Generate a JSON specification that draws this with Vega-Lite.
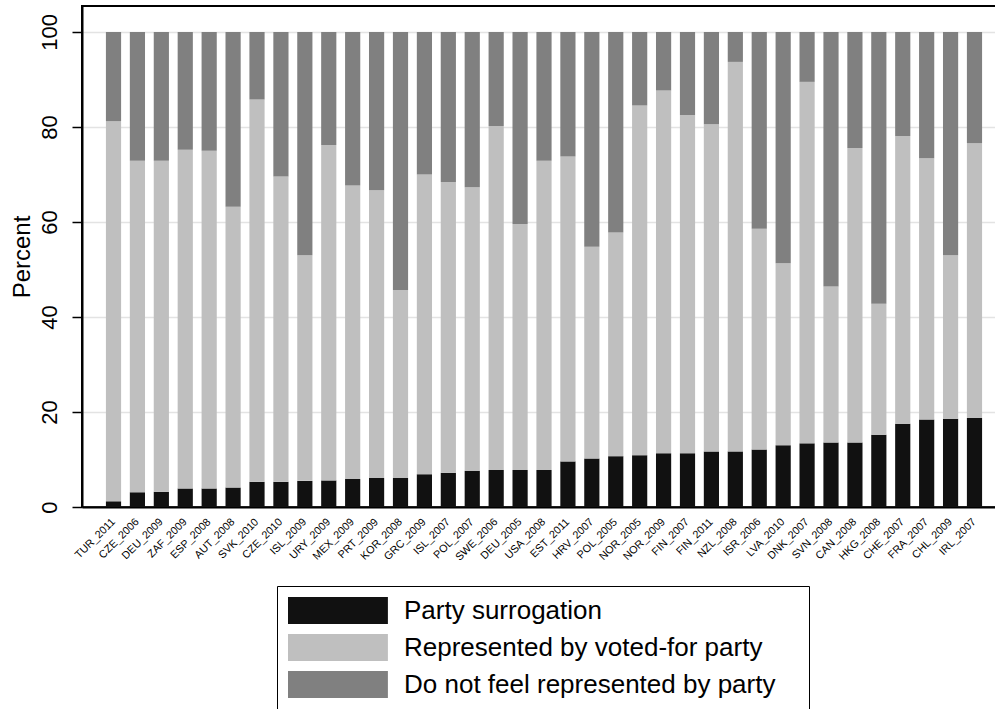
{
  "$schema": "https://vega.github.io/schema/vega-lite/v6.json",
  "autosize": "none",
  "padding": {"left": 82, "top": 6, "right": 0, "bottom": 202},
  "width": 924,
  "height": 501,
  "background": "white",
  "config": {
    "font": "Liberation Sans",
    "view": {"stroke": "black", "strokeWidth": 2},
    "axis": {"labelFont": "Liberation Sans", "titleFont": "Liberation Sans", "labelColor": "black", "titleColor": "black", "titleFontWeight": "normal"}
  },
  "datasets": {
    "groups": [
      {"o": 1, "g": "Party surrogation"},
      {"o": 2, "g": "Represented by voted-for party"},
      {"o": 3, "g": "Do not feel represented by party"}
    ]
  },
  "data": {"values": [
    {"c":"TUR_2011","o":1,"v":1.2},{"c":"TUR_2011","o":2,"v":80.0},{"c":"TUR_2011","o":3,"v":18.8},
    {"c":"CZE_2006","o":1,"v":3.1},{"c":"CZE_2006","o":2,"v":69.8},{"c":"CZE_2006","o":3,"v":27.1},
    {"c":"DEU_2009","o":1,"v":3.2},{"c":"DEU_2009","o":2,"v":69.7},{"c":"DEU_2009","o":3,"v":27.1},
    {"c":"ZAF_2009","o":1,"v":3.9},{"c":"ZAF_2009","o":2,"v":71.3},{"c":"ZAF_2009","o":3,"v":24.8},
    {"c":"ESP_2008","o":1,"v":3.9},{"c":"ESP_2008","o":2,"v":71.1},{"c":"ESP_2008","o":3,"v":25.0},
    {"c":"AUT_2008","o":1,"v":4.1},{"c":"AUT_2008","o":2,"v":59.1},{"c":"AUT_2008","o":3,"v":36.8},
    {"c":"SVK_2010","o":1,"v":5.3},{"c":"SVK_2010","o":2,"v":80.5},{"c":"SVK_2010","o":3,"v":14.2},
    {"c":"CZE_2010","o":1,"v":5.3},{"c":"CZE_2010","o":2,"v":64.3},{"c":"CZE_2010","o":3,"v":30.4},
    {"c":"ISL_2009","o":1,"v":5.5},{"c":"ISL_2009","o":2,"v":47.5},{"c":"ISL_2009","o":3,"v":47.0},
    {"c":"URY_2009","o":1,"v":5.6},{"c":"URY_2009","o":2,"v":70.6},{"c":"URY_2009","o":3,"v":23.8},
    {"c":"MEX_2009","o":1,"v":5.9},{"c":"MEX_2009","o":2,"v":61.8},{"c":"MEX_2009","o":3,"v":32.3},
    {"c":"PRT_2009","o":1,"v":6.1},{"c":"PRT_2009","o":2,"v":60.6},{"c":"PRT_2009","o":3,"v":33.3},
    {"c":"KOR_2008","o":1,"v":6.1},{"c":"KOR_2008","o":2,"v":39.6},{"c":"KOR_2008","o":3,"v":54.3},
    {"c":"GRC_2009","o":1,"v":6.9},{"c":"GRC_2009","o":2,"v":63.1},{"c":"GRC_2009","o":3,"v":30.0},
    {"c":"ISL_2007","o":1,"v":7.2},{"c":"ISL_2007","o":2,"v":61.2},{"c":"ISL_2007","o":3,"v":31.6},
    {"c":"POL_2007","o":1,"v":7.6},{"c":"POL_2007","o":2,"v":59.7},{"c":"POL_2007","o":3,"v":32.7},
    {"c":"SWE_2006","o":1,"v":7.8},{"c":"SWE_2006","o":2,"v":72.4},{"c":"SWE_2006","o":3,"v":19.8},
    {"c":"DEU_2005","o":1,"v":7.8},{"c":"DEU_2005","o":2,"v":51.8},{"c":"DEU_2005","o":3,"v":40.4},
    {"c":"USA_2008","o":1,"v":7.8},{"c":"USA_2008","o":2,"v":65.1},{"c":"USA_2008","o":3,"v":27.1},
    {"c":"EST_2011","o":1,"v":9.6},{"c":"EST_2011","o":2,"v":64.2},{"c":"EST_2011","o":3,"v":26.2},
    {"c":"HRV_2007","o":1,"v":10.2},{"c":"HRV_2007","o":2,"v":44.6},{"c":"HRV_2007","o":3,"v":45.2},
    {"c":"POL_2005","o":1,"v":10.7},{"c":"POL_2005","o":2,"v":47.1},{"c":"POL_2005","o":3,"v":42.2},
    {"c":"NOR_2005","o":1,"v":10.9},{"c":"NOR_2005","o":2,"v":73.6},{"c":"NOR_2005","o":3,"v":15.5},
    {"c":"NOR_2009","o":1,"v":11.3},{"c":"NOR_2009","o":2,"v":76.4},{"c":"NOR_2009","o":3,"v":12.3},
    {"c":"FIN_2007","o":1,"v":11.3},{"c":"FIN_2007","o":2,"v":71.2},{"c":"FIN_2007","o":3,"v":17.5},
    {"c":"FIN_2011","o":1,"v":11.7},{"c":"FIN_2011","o":2,"v":68.9},{"c":"FIN_2011","o":3,"v":19.4},
    {"c":"NZL_2008","o":1,"v":11.7},{"c":"NZL_2008","o":2,"v":82.0},{"c":"NZL_2008","o":3,"v":6.3},
    {"c":"ISR_2006","o":1,"v":12.1},{"c":"ISR_2006","o":2,"v":46.5},{"c":"ISR_2006","o":3,"v":41.4},
    {"c":"LVA_2010","o":1,"v":13.0},{"c":"LVA_2010","o":2,"v":38.3},{"c":"LVA_2010","o":3,"v":48.7},
    {"c":"DNK_2007","o":1,"v":13.4},{"c":"DNK_2007","o":2,"v":76.1},{"c":"DNK_2007","o":3,"v":10.5},
    {"c":"SVN_2008","o":1,"v":13.6},{"c":"SVN_2008","o":2,"v":32.8},{"c":"SVN_2008","o":3,"v":53.6},
    {"c":"CAN_2008","o":1,"v":13.6},{"c":"CAN_2008","o":2,"v":62.0},{"c":"CAN_2008","o":3,"v":24.4},
    {"c":"HKG_2008","o":1,"v":15.2},{"c":"HKG_2008","o":2,"v":27.6},{"c":"HKG_2008","o":3,"v":57.2},
    {"c":"CHE_2007","o":1,"v":17.5},{"c":"CHE_2007","o":2,"v":60.6},{"c":"CHE_2007","o":3,"v":21.9},
    {"c":"FRA_2007","o":1,"v":18.4},{"c":"FRA_2007","o":2,"v":55.0},{"c":"FRA_2007","o":3,"v":26.6},
    {"c":"CHL_2009","o":1,"v":18.6},{"c":"CHL_2009","o":2,"v":34.4},{"c":"CHL_2009","o":3,"v":47.0},
    {"c":"IRL_2007","o":1,"v":18.8},{"c":"IRL_2007","o":2,"v":57.8},{"c":"IRL_2007","o":3,"v":23.4}
  ]},
  "transform": [
    {"lookup": "o", "from": {"data": {"name": "groups"}, "key": "o", "fields": ["g"]}}
  ],
  "mark": {"type": "bar"},
  "encoding": {
    "x": {
      "field": "c", "type": "nominal", "sort": null,
      "scale": {"paddingInner": 0.365, "paddingOuter": 1.227},
      "axis": {"title": null, "labelAngle": -45, "labelAlign": "right", "labelBaseline": "middle", "labelFontSize": 10.8, "labelPadding": 13, "ticks": false, "domainColor": "black", "domainWidth": 2, "labelOverlap": false}
    },
    "y": {
      "field": "v", "type": "quantitative", "stack": "zero",
      "scale": {"domain": [0, 105.47], "nice": false},
      "axis": {"title": "Percent", "titleFontSize": 24, "titlePadding": 4, "labelFontSize": 22, "labelAngle": -90, "labelPadding": 11, "values": [0, 20, 40, 60, 80, 100], "tickSize": 10, "tickWidth": 1.5, "tickColor": "black", "domainColor": "black", "domainWidth": 2, "grid": true, "gridColor": "#e3e3e3", "gridWidth": 1.5}
    },
    "color": {
      "field": "g", "type": "nominal",
      "scale": {"domain": ["Party surrogation", "Represented by voted-for party", "Do not feel represented by party"], "range": ["#111111", "#bfbfbf", "#808080"]},
      "legend": {"title": null, "orient": "none", "legendX": 195, "legendY": 580, "direction": "vertical", "symbolType": "M-1,-1H6.4V1H-1Z", "symbolSize": 729, "symbolStrokeWidth": 0, "symbolOpacity": 1, "labelFontSize": 26, "labelFont": "Liberation Sans", "labelColor": "black", "labelOffset": 89, "rowPadding": 10, "padding": 11, "strokeColor": "black", "labelLimit": 0, "labelExpr": "datum.label + '\u00a0\u00a0\u00a0\u200b'"}
    },
    "order": {"field": "o", "type": "quantitative", "sort": "ascending"}
  }
}
